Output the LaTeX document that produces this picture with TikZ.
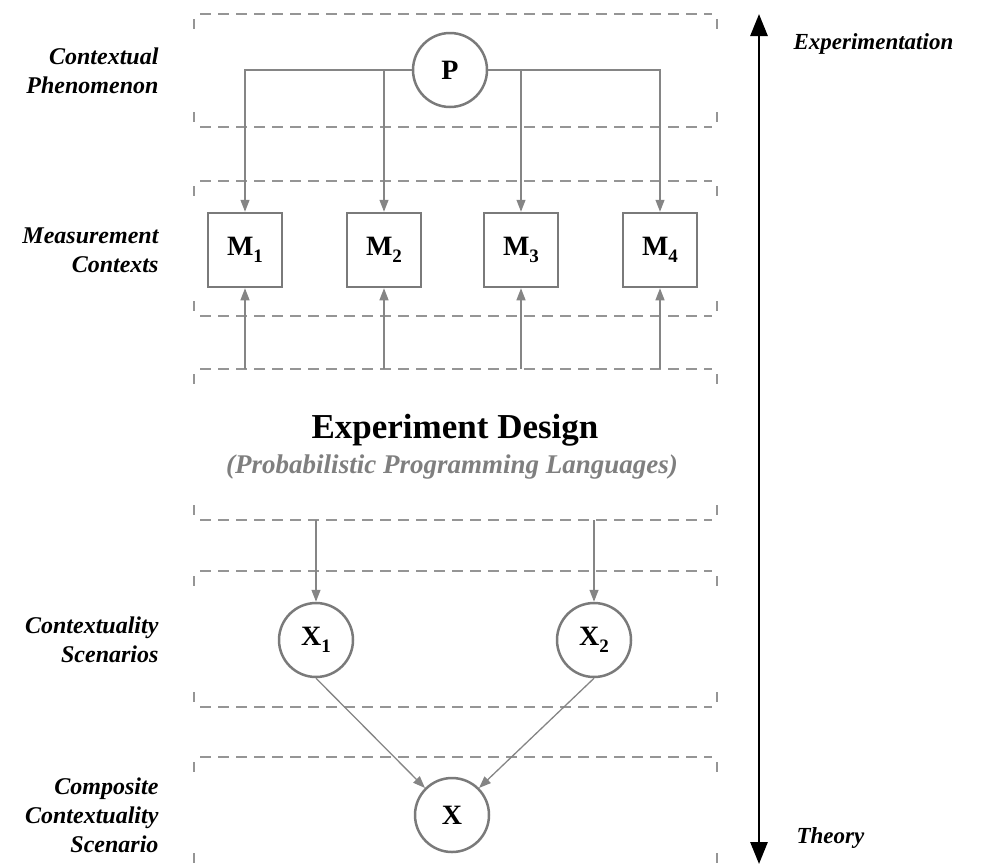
\documentclass[tikz,border=0pt]{standalone}
\usepackage{fontspec}
\setmainfont{Liberation Serif}
\usetikzlibrary{arrows.meta}
\definecolor{linegray}{HTML}{858585}
\definecolor{boxgray}{HTML}{7A7A7A}
\definecolor{dashgray}{HTML}{959595}
\definecolor{subgray}{HTML}{7F7F7F}
\tikzset{
  band/.style={draw=dashgray, line width=1.3pt, dash pattern=on 11pt off 7pt},
  bandtick/.style={draw=dashgray, line width=1.3pt},
  roundnode/.style={circle, draw=boxgray, line width=2.5pt, minimum size=74pt, inner sep=0pt,
    font=\fontsize{28}{30}\selectfont\bfseries},
  squarenode/.style={rectangle, draw=boxgray, line width=2.5pt, minimum size=74pt, inner sep=0pt,
    font=\fontsize{28}{30}\selectfont\bfseries},
  conn/.style={draw=linegray, line width=1.3pt, -{Triangle[length=12pt,width=9pt]}},
  sidelabel/.style={anchor=east, align=right, font=\fontsize{24}{29}\selectfont\bfseries\itshape},
  axislabel/.style={anchor=west, font=\fontsize{23}{26}\selectfont\bfseries\itshape},
}
% subscript index set low and small, as in the node labels
\newcommand{\idx}[1]{\raisebox{-7pt}{\fontsize{19}{19}\selectfont #1}}
\newcommand{\bandbox}[2]{%
  \draw[band] (200,#1) -- (712,#1);
  \draw[band] (200,#2) -- (712,#2);
  \draw[bandtick] (194,#1+5) -- (194,#1+15);
  \draw[bandtick] (717,#1+5) -- (717,#1+15);
  \draw[bandtick] (194,#2-15) -- (194,#2-5);
  \draw[bandtick] (717,#2-15) -- (717,#2-5);
}
\begin{document}
\begin{tikzpicture}[x=1pt,y=-1pt]
\useasboundingbox (0,0) rectangle (984,865);

% layer bands
\bandbox{14}{127}
\bandbox{181}{316}
\bandbox{369}{520}
\bandbox{571}{707}
\draw[band] (200,757) -- (712,757);
\draw[bandtick] (194,762) -- (194,772);
\draw[bandtick] (717,762) -- (717,772);
\draw[bandtick] (194,853) -- (194,863);
\draw[bandtick] (717,853) -- (717,863);

% layer names
\node[sidelabel] (lp) at (162,71) {Contextual\\Phenomenon};
\node[sidelabel] (lm) at (162,250) {Measurement\\Contexts};
\node[sidelabel] (ls) at (162,640) {Contextuality\\Scenarios};
\node[sidelabel] (lc) at (162,815) {Composite\\Contextuality\\Scenario};

% nodes
\node[roundnode] (P) at (450,70) {P};
\node[squarenode] (M1) at (245,250) {M\idx{1}};
\node[squarenode] (M2) at (384,250) {M\idx{2}};
\node[squarenode] (M3) at (521,250) {M\idx{3}};
\node[squarenode] (M4) at (660,250) {M\idx{4}};
\node[roundnode] (X1) at (316,640) {X\idx{1}};
\node[roundnode] (X2) at (594,640) {X\idx{2}};
\node[roundnode] (X) at (452,815) {X};

\node[font=\fontsize{35}{38}\selectfont\bfseries] (ed) at (455,430) {Experiment Design};
\node[font=\fontsize{27}{30}\selectfont\bfseries\itshape, text=subgray] (ppl) at (452,467)
  {(Probabilistic Programming Languages)};

% phenomenon to measurement contexts
\draw[conn] (P.west) -| (M1.north);
\draw[conn] (P.west) -| (M2.north);
\draw[conn] (P.east) -| (M3.north);
\draw[conn] (P.east) -| (M4.north);

% experiment design feeds the contexts
\coordinate (e1) at (245,369);
\coordinate (e2) at (384,369);
\coordinate (e3) at (521,369);
\coordinate (e4) at (660,369);
\draw[conn] (e1) -- (M1.south);
\draw[conn] (e2) -- (M2.south);
\draw[conn] (e3) -- (M3.south);
\draw[conn] (e4) -- (M4.south);

% experiment design to scenarios
\coordinate (d1) at (316,520);
\coordinate (d2) at (594,520);
\draw[conn] (d1) -- (X1.north);
\draw[conn] (d2) -- (X2.north);

% composition
\draw[conn] (X1.south) -- (X.north west);
\draw[conn] (X2.south) -- (X.north east);

% experimentation / theory axis
\coordinate (atop) at (759,14);
\coordinate (abot) at (759,864);
\draw[line width=2.8pt, {Triangle[length=22pt,width=17pt]}-{Triangle[length=22pt,width=17pt]}] (atop) -- (abot);
\node[axislabel] (lexp) at (790,44) {Experimentation};
\node[axislabel] (lthe) at (793,838) {Theory};
\end{tikzpicture}
\end{document}
